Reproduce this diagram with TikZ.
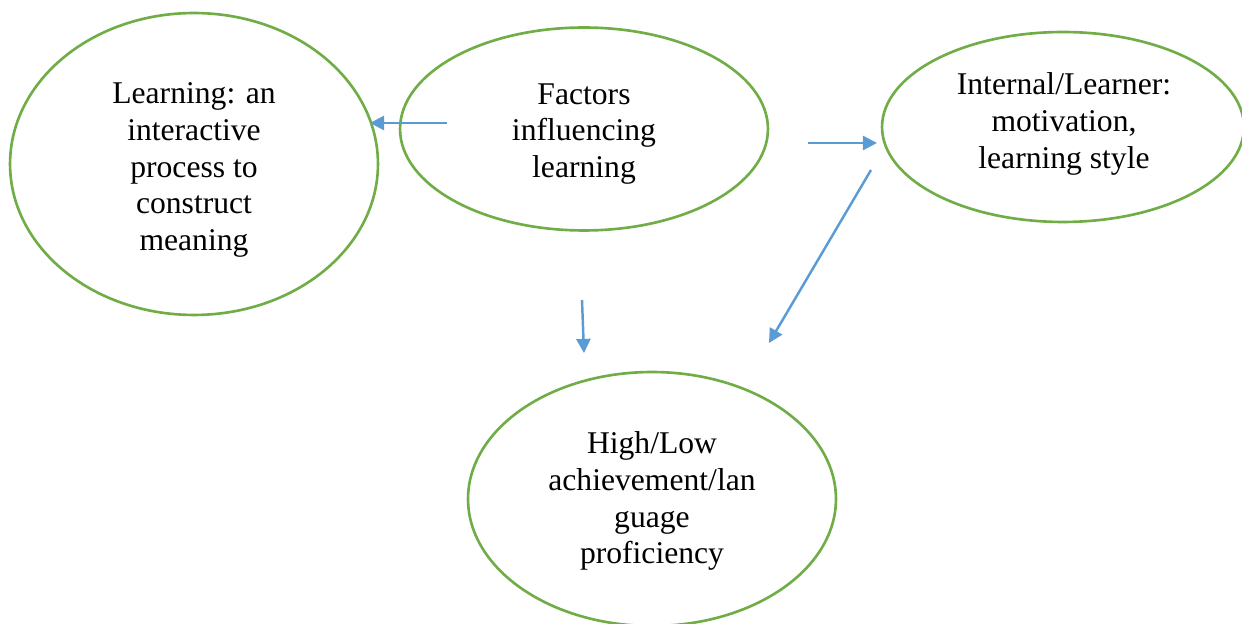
\documentclass[tikz,border=0pt]{standalone}
\usepackage{fontspec}
\setmainfont{Liberation Serif}
\usetikzlibrary{shapes.geometric,arrows.meta}
\definecolor{ringgreen}{HTML}{70AD47}
\definecolor{arrowblue}{HTML}{5B9BD5}
\tikzset{
  ring/.style={ellipse, draw=ringgreen, line width=1.5pt, inner sep=0pt},
  txt/.style={align=center, inner sep=0pt, font=\fontsize{18}{21}\selectfont},
  link/.style={draw=arrowblue, line width=1.4pt, -{Triangle[length=8pt,width=8pt]}}
}
\begin{document}
\begin{tikzpicture}[x=0.02cm,y=-0.02cm]
\useasboundingbox (0,0) rectangle (1242,624);
\node[ring, minimum width=7.36cm, minimum height=6.04cm] (learn) at (194,164) {};
\node[txt] (learnt) at (194,170) {Learning: an\\interactive\\process to\\construct\\meaning};
\node[ring, minimum width=7.36cm, minimum height=4.06cm] (factors) at (584,129) {};
\node[txt] (factorst) at (584,134) {Factors\\influencing\\learning};
\node[ring, minimum width=7.24cm, minimum height=3.8cm] (internal) at (1063,127) {};
\node[txt] (internalt) at (1064,124) {Internal/Learner:\\motivation,\\learning style};
\node[ring, minimum width=7.36cm, minimum height=5.08cm] (achieve) at (652,499) {};
\node[txt] (achievet) at (652,501) {High/Low\\achievement/lan\\guage\\proficiency};
\coordinate (a1s) at (447,123);
\coordinate (a1e) at (370,123);
\coordinate (a2s) at (808,143);
\coordinate (a2e) at (877,143);
\coordinate (a3s) at (582,300);
\coordinate (a3e) at (584,353);
\coordinate (a4s) at (871,170);
\coordinate (a4e) at (769,343);
\draw[link] (a1s) -- (a1e);
\draw[link] (a2s) -- (a2e);
\draw[link] (a3s) -- (a3e);
\draw[link] (a4s) -- (a4e);
\end{tikzpicture}
\end{document}
